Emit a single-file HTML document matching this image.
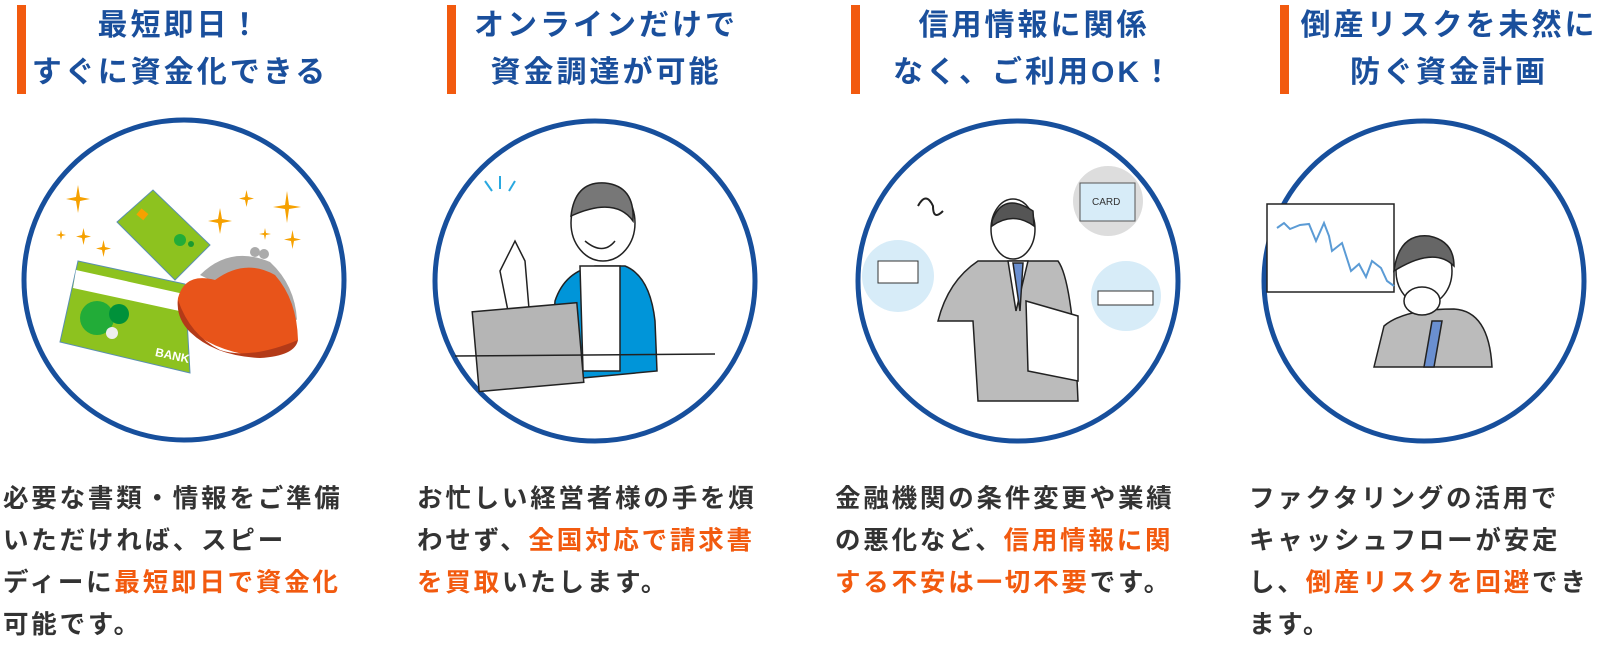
<!DOCTYPE html>
<html><head><meta charset="utf-8">
<style>
body{margin:0;width:1601px;height:641px;background:#fff;position:relative;overflow:hidden;font-family:"Liberation Sans","Noto Sans CJK JP",sans-serif;}
.bar{position:absolute;top:5px;width:9px;height:89px;background:#f25a0f;}
.t{position:absolute;width:360px;text-align:center;color:#1a4f9c;font-weight:700;font-size:30px;letter-spacing:3px;line-height:47px;top:2px;white-space:nowrap;}
.b{position:absolute;top:478px;color:#333;font-weight:700;font-size:25.5px;letter-spacing:2.8px;line-height:42px;white-space:nowrap;}
.o{color:#f25a0f;}
svg{position:absolute;top:0;left:0;}
</style></head><body>
<div class="bar" style="left:17px"></div>
<div class="bar" style="left:447px"></div>
<div class="bar" style="left:851px"></div>
<div class="bar" style="left:1280px"></div>
<div class="t" style="left:0px">最短即日！<br>すぐに資金化できる</div>
<div class="t" style="left:426px">オンラインだけで<br>資金調達が可能</div>
<div class="t" style="left:854px">信用情報に関係<br>なく、ご利用OK！</div>
<div class="t" style="left:1269px">倒産リスクを未然に<br>防ぐ資金計画</div>

<svg width="1601" height="641" viewBox="0 0 1601 641">
<g fill="none" stroke="#174f9c" stroke-width="5">
<circle cx="184" cy="280" r="160"/>
<circle cx="595" cy="281" r="160"/>
<circle cx="1018" cy="281" r="160"/>
<circle cx="1424" cy="281" r="160"/>
</g>
<!-- col1 -->
<g>
<polygon points="117,222 153,190 210,245 175,280" fill="#8dc21f" stroke="#5a8fb0" stroke-width="1"/>
<circle cx="180" cy="240" r="6" fill="#22ac38"/><circle cx="191" cy="244" r="3" fill="#1a9a30"/>
<rect x="138" y="210" width="9" height="8" fill="#f6a100" transform="rotate(40 142 214)"/>
<polygon points="78,261 185,284 190,373 60,342" fill="#8dc21f" stroke="#5a8fb0" stroke-width="1"/>
<polygon points="76,270 184,294 184,312 73,288" fill="#fff"/>
<circle cx="97" cy="318" r="17" fill="#22ac38"/><circle cx="119" cy="314" r="10" fill="#00913a"/><circle cx="112" cy="333" r="6" fill="#eee"/>
<text x="155" y="358" font-size="12" fill="#fff" font-weight="700" transform="rotate(12 165 355)">BANK</text>
<path d="M200 275 Q230 245 270 262 Q295 285 297 320 L250 300Z" fill="#aaa"/>
<circle cx="255" cy="252" r="5" fill="#aaa"/><circle cx="264" cy="254" r="5" fill="#aaa"/>
<path d="M178 298 Q185 272 215 280 Q245 258 275 275 Q297 300 298 340 Q290 355 255 356 Q210 350 185 325 Q176 312 178 298Z" fill="#e8541a"/>
<path d="M178 300 Q190 335 220 350 Q250 360 298 340 Q295 356 260 358 Q215 356 190 332 Q176 318 178 300Z" fill="#b33a18"/>
<g fill="#f6a100"><path d="M76 197 l2 -12 2 12 10 2 -10 2 -2 12 -2 -12 -10 -2z"/><path d="M285 205 l2 -14 2 14 12 2 -12 2 -2 14 -2 -14 -12 -2z"/><path d="M218 219 l2 -11 2 11 10 2 -10 2 -2 11 -2 -11 -10 -2z"/><path d="M82 235 l1.5 -7 1.5 7 6 1.5 -6 1.5 -1.5 7 -1.5 -7 -6 -1.5z"/><path d="M102 247 l1.5 -7 1.5 7 6 1.5 -6 1.5 -1.5 7 -1.5 -7 -6 -1.5z"/><path d="M60 234 l1 -4 1 4 4 1 -4 1 -1 4 -1 -4 -4 -1z"/><path d="M245 197 l1.5 -7 1.5 7 6 1.5 -6 1.5 -1.5 7 -1.5 -7 -6 -1.5z"/><path d="M264 233 l1 -5 1 5 5 1 -5 1 -1 5 -1 -5 -5 -1z"/><path d="M291 238 l1.5 -8 1.5 8 7 1.5 -7 1.5 -1.5 8 -1.5 -8 -7 -1.5z"/></g>
</g>
<!-- col2 -->
<g transform="translate(595,281)" stroke="#222" stroke-width="1.5">
<path d="M-45 100 L-40 20 Q-30 -10 0 -15 L30 -15 Q55 -5 60 40 L62 90Z" fill="#0095d9"/>
<path d="M-15 -15 L-12 90 L25 90 L25 -15Z" fill="#fff"/>
<ellipse cx="8" cy="-58" rx="32" ry="38" fill="#fff"/>
<path d="M-24 -65 Q-20 -100 10 -98 Q40 -95 38 -60 Q20 -85 -24 -65Z" fill="#777"/>
<path d="M-10 -40 Q8 -25 20 -40" fill="#fff"/>
<path d="M-95 -10 L-80 -40 L-70 -20 L-65 40 L-85 40Z" fill="#fff"/>
<g transform="rotate(-5)"><rect x="-125" y="20" width="105" height="80" fill="#b5b5b5"/></g>
<line x1="-140" y1="75" x2="120" y2="73"/>
<line x1="-110" y1="-100" x2="-103" y2="-90" stroke="#29a8e0" stroke-width="2"/><line x1="-95" y1="-105" x2="-95" y2="-92" stroke="#29a8e0" stroke-width="2"/><line x1="-80" y1="-100" x2="-86" y2="-90" stroke="#29a8e0" stroke-width="2"/>
</g>
<!-- col3 -->
<g transform="translate(1018,281)">
<circle cx="-120" cy="-5" r="36" fill="#d7ecf8"/><circle cx="108" cy="15" r="35" fill="#d7ecf8"/><circle cx="90" cy="-80" r="35" fill="#ddd"/>
<rect x="62" y="-98" width="55" height="38" fill="#d7ecf8" stroke="#555"/><text x="74" y="-76" font-size="10" fill="#333">CARD</text>
<rect x="-140" y="-20" width="40" height="22" fill="#fff" stroke="#333"/><rect x="80" y="10" width="55" height="14" fill="#fff" stroke="#333"/>
<g stroke="#222" stroke-width="1.5"><path d="M-80 40 Q-70 0 -40 -20 L40 -20 Q55 0 60 120 L-40 120 L-45 40Z" fill="#bbb"/><path d="M-10 -20 L-2 30 L10 -20Z" fill="#fff"/><path d="M-5 -18 L5 -18 L2 30 Z" fill="#6a8fd0"/><ellipse cx="-5" cy="-52" rx="22" ry="30" fill="#fff"/><path d="M-26 -60 Q-15 -90 15 -70 L16 -55 Q-5 -70 -26 -55Z" fill="#555"/><path d="M8 20 L60 35 L60 100 L10 90Z" fill="#fff"/></g>
<path d="M-100 -75 q8 -15 15 0 q0 15 10 5" fill="none" stroke="#222" stroke-width="2"/>
</g>
<!-- col4 -->
<g transform="translate(1424,281)">
<rect x="-157" y="-77" width="127" height="88" fill="#fff" stroke="#222" stroke-width="1.5"/>
<polyline points="-147,-53 -140,-58 -134,-52 -124,-56 -115,-57 -108,-40 -100,-58 -95,-45 -92,-30 -82,-38 -73,-10 -65,-17 -58,-4 -52,-20 -43,-13 -37,0 -30,5" fill="none" stroke="#5b9bd5" stroke-width="2"/>
<g stroke="#222" stroke-width="1.5"><path d="M-50 86 L-40 45 Q-20 28 30 28 Q65 30 68 86Z" fill="#bbb"/><path d="M8 40 L0 86 L10 86 L18 40Z" fill="#6a8fd0"/><ellipse cx="0" cy="-10" rx="28" ry="34" fill="#fff"/><path d="M-30 -10 Q-25 -48 5 -45 Q30 -40 30 -15 Q10 -35 -30 -10Z" fill="#666"/><ellipse cx="-2" cy="20" rx="18" ry="14" fill="#fff"/></g>
</g>
</svg>

<div class="b" style="left:3px">必要な書類・情報をご準備<br>いただければ、スピー<br>ディーに<span class="o">最短即日で資金化</span><br>可能です。</div>
<div class="b" style="left:417px">お忙しい経営者様の手を煩<br>わせず、<span class="o">全国対応で請求書</span><br><span class="o">を買取</span>いたします。</div>
<div class="b" style="left:835px">金融機関の条件変更や業績<br>の悪化など、<span class="o">信用情報に関</span><br><span class="o">する不安は一切不要</span>です。</div>
<div class="b" style="left:1249px">ファクタリングの活用で<br>キャッシュフローが安定<br>し、<span class="o">倒産リスクを回避</span>でき<br>ます。</div>
</body></html>
